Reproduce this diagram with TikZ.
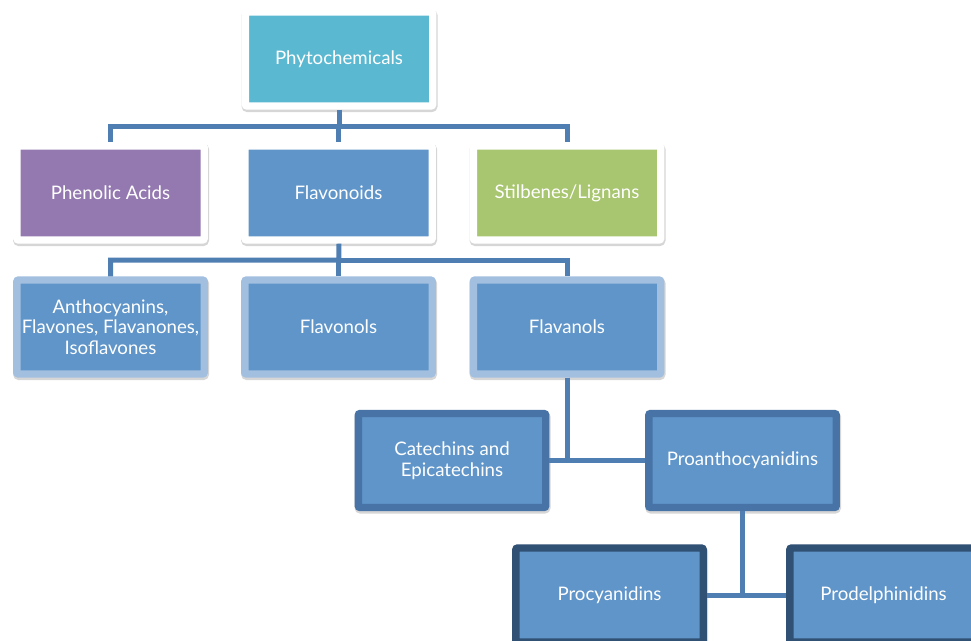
\documentclass[tikz,border=0pt]{standalone}
\usepackage{fontspec}
\setmainfont{Lato}
\usetikzlibrary{shadows}
\definecolor{topcol}{HTML}{5BB8D1}
\definecolor{purplecol}{HTML}{9379AF}
\definecolor{bluecol}{HTML}{6095C9}
\definecolor{greencol}{HTML}{A8C56F}
\definecolor{paleedge}{HTML}{A3BFDF}
\definecolor{midedge}{HTML}{4773A6}
\definecolor{darkedge}{HTML}{305074}
\definecolor{linkcol}{HTML}{4E7EB2}
\begin{document}
\begin{tikzpicture}[x=0.75pt,y=-0.75pt,
    box/.style={draw=white, line width=5.6pt, rounded corners=1.5pt, fill=bluecol,
      minimum width=140.6pt, minimum height=70.5pt, inner sep=0pt, align=center,
      text=white, font=\fontsize{14}{15.5}\selectfont,
      drop shadow={fill=black, draw=black, line width=6.4pt, opacity=0.16,
        shadow xshift=0.4pt, shadow yshift=-1.4pt}},
    link/.style={draw=linkcol, line width=3.75pt}]
        \path[use as bounding box, clip] (0,0) rectangle (971,640);

        \node[box, fill=topcol] (1) at (339,59) {Phytochemicals};
        \node[box, fill=purplecol] (2) at (110.5,193) {Phenolic Acids};
        \node[box] (3) at (338.5,193) {Flavonoids};
        \node[box, fill=greencol] (4) at (567,193) {\vphantom{Pg}Stilbenes/Lignans};
        \node[box, draw=paleedge] (5) at (110.5,327) {Anthocyanins,\\Flavones, Flavanones,\\Isoflavones};
        \node[box, draw=paleedge] (6) at (338.5,327) {Flavonols};
        \node[box, draw=paleedge] (7) at (567,327) {Flavanols};
        \node[box, draw=midedge] (8) at (452,460.5) {Catechins and\\Epicatechins};
        \node[box, draw=midedge] (9) at (742.5,460.5) {Proanthocyanidins};
        \node[box, draw=darkedge] (10) at (609.5,595) {Procyanidins};
        \node[box, draw=darkedge] (11) at (883.5,595) {Prodelphinidins};

        \coordinate (j1) at (339,126);
        \coordinate (j2) at (339,260);
        \coordinate (j3) at (567,460.5);
        \coordinate (j4) at (742.5,595);

        \path[link] (1) -- (j1) -| (2);
        \path[link] (j1) -| (3);
        \path[link] (j1) -| (4);
        \path[link] (3) -- (j2) -| (5);
        \path[link] (j2) -| (6);
        \path[link] (j2) -| (7);
        \path[link] (7) -- (j3);
        \path[link] (j3) -- (8);
        \path[link] (j3) -- (9);
        \path[link] (9) -- (j4);
        \path[link] (j4) -- (10);
        \path[link] (j4) -- (11);
    \end{tikzpicture}
\end{document}
